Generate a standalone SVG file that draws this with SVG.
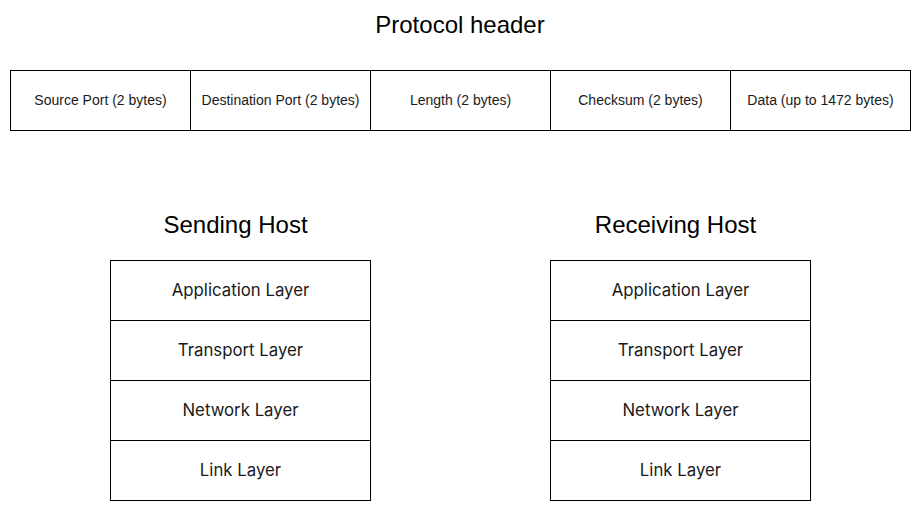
<svg xmlns="http://www.w3.org/2000/svg" width="921" height="511" viewBox="0 0 921 511">
<style>
.box{fill:#fff;stroke:#000;stroke-width:1}
.cell{font-family:"Liberation Sans",Arial,sans-serif;font-size:14px;fill:#1a1a1a;text-anchor:middle;dominant-baseline:central}
.layer{font-family:Inter,"Liberation Sans",sans-serif;font-size:16.8px;fill:#1a1a1a;text-anchor:middle;dominant-baseline:central}
.title{font-family:"Liberation Sans",Arial,sans-serif;font-size:24px;fill:#000;text-anchor:middle;dominant-baseline:central}
</style>
<rect width="921" height="511" fill="#fff"/>
<text class="title" x="460" y="24">Protocol header</text>
<g id="header">
<g id="h1"><rect class="box" x="10.5" y="70.5" width="180" height="60"/><text class="cell" x="100.5" y="100">Source Port (2 bytes)</text></g>
<g id="h2"><rect class="box" x="190.5" y="70.5" width="180" height="60"/><text class="cell" x="280.5" y="100">Destination Port (2 bytes)</text></g>
<g id="h3"><rect class="box" x="370.5" y="70.5" width="180" height="60"/><text class="cell" x="460.5" y="100">Length (2 bytes)</text></g>
<g id="h4"><rect class="box" x="550.5" y="70.5" width="180" height="60"/><text class="cell" x="640.5" y="100">Checksum (2 bytes)</text></g>
<g id="h5"><rect class="box" x="730.5" y="70.5" width="180" height="60"/><text class="cell" x="820.5" y="100">Data (up to 1472 bytes)</text></g>
</g>
<text class="title" x="235.5" y="224">Sending Host</text>
<g id="send">
<g id="s1"><rect class="box" x="110.5" y="260.5" width="260" height="60"/><text class="layer" x="240.5" y="290">Application Layer</text></g>
<g id="s2"><rect class="box" x="110.5" y="320.5" width="260" height="60"/><text class="layer" x="240.5" y="350">Transport Layer</text></g>
<g id="s3"><rect class="box" x="110.5" y="380.5" width="260" height="60"/><text class="layer" x="240.5" y="410">Network Layer</text></g>
<g id="s4"><rect class="box" x="110.5" y="440.5" width="260" height="60"/><text class="layer" x="240.5" y="470">Link Layer</text></g>
</g>
<text class="title" x="675.5" y="224">Receiving Host</text>
<g id="recv">
<g id="r1"><rect class="box" x="550.5" y="260.5" width="260" height="60"/><text class="layer" x="680.5" y="290">Application Layer</text></g>
<g id="r2"><rect class="box" x="550.5" y="320.5" width="260" height="60"/><text class="layer" x="680.5" y="350">Transport Layer</text></g>
<g id="r3"><rect class="box" x="550.5" y="380.5" width="260" height="60"/><text class="layer" x="680.5" y="410">Network Layer</text></g>
<g id="r4"><rect class="box" x="550.5" y="440.5" width="260" height="60"/><text class="layer" x="680.5" y="470">Link Layer</text></g>
</g>
<g id="connectors"/>
</svg>
